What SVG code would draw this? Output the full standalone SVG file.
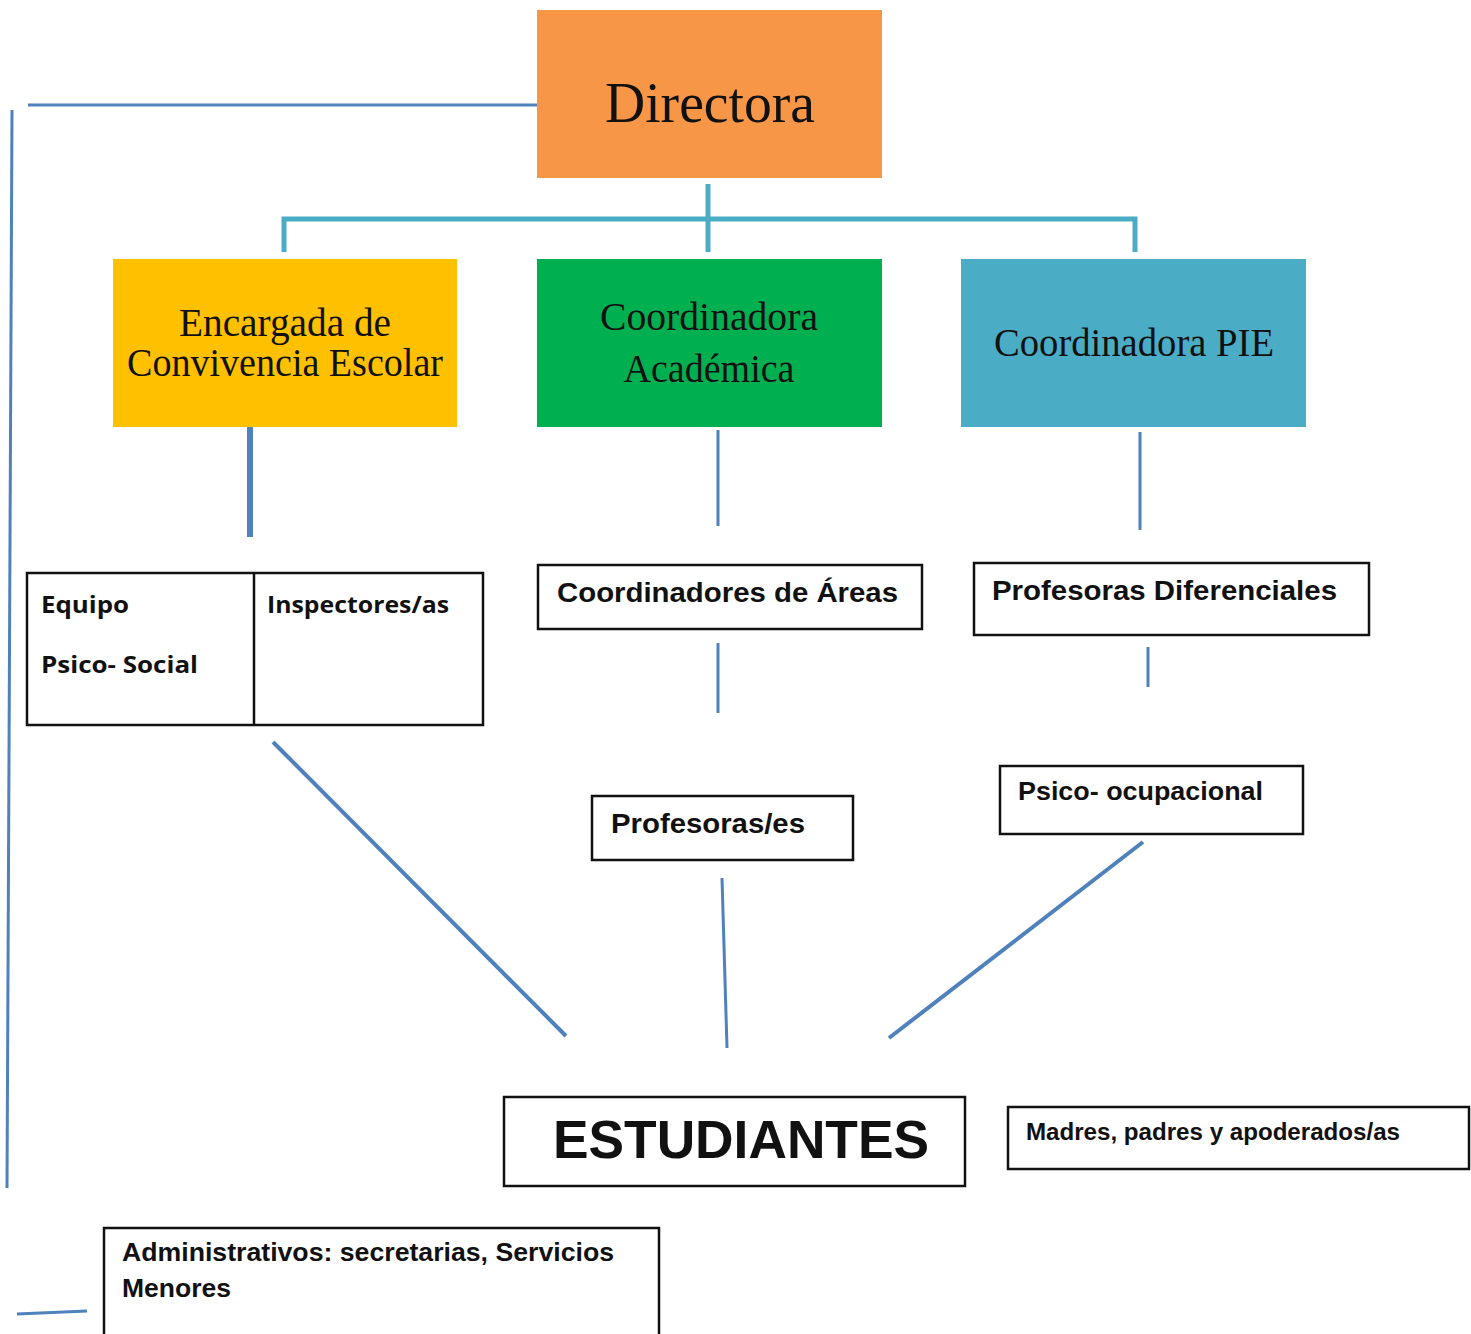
<svg xmlns="http://www.w3.org/2000/svg" width="1471" height="1334" viewBox="0 0 1471 1334">
<style>
.serif{font-family:"Liberation Serif","DejaVu Serif",serif;fill:#111;}
.sans{font-family:"Liberation Sans",Arial,sans-serif;font-weight:bold;fill:#111;}
.mont{font-family:"Open Sans","Liberation Sans",sans-serif;font-weight:bold;fill:#111;}
.box{fill:#fff;stroke:#111;stroke-width:2.5;}
.blue{stroke:#4F81BD;fill:none;stroke-linecap:butt;}
.teal{stroke:#4BACC6;fill:none;stroke-width:5;}
</style>
<rect width="1471" height="1334" fill="#fff"/>
<g id="connectors">
<line class="blue" x1="28" y1="105" x2="537" y2="105" stroke-width="3"/>
<line class="blue" x1="12" y1="110" x2="7" y2="1188" stroke-width="3"/>
<polyline class="teal" points="284,252 284,219 1135,219 1135,252"/>
<line class="teal" x1="708" y1="184" x2="708" y2="252"/>
<line class="blue" x1="250" y1="421" x2="250" y2="537" stroke-width="6"/>
<line class="blue" x1="718" y1="430" x2="718" y2="526" stroke-width="3"/>
<line class="blue" x1="1140" y1="432" x2="1140" y2="530" stroke-width="3"/>
<line class="blue" x1="718" y1="643" x2="718" y2="713" stroke-width="3"/>
<line class="blue" x1="1148" y1="647" x2="1148" y2="687" stroke-width="3"/>
<line class="blue" x1="273" y1="742" x2="566" y2="1036" stroke-width="4"/>
<line class="blue" x1="722" y1="878" x2="727" y2="1048" stroke-width="3"/>
<line class="blue" x1="1143" y1="842" x2="889" y2="1038" stroke-width="4"/>
<line class="blue" x1="17" y1="1314" x2="87" y2="1311" stroke-width="3"/>
</g>
<g id="directora">
<rect x="537" y="10" width="345" height="168" fill="#F79646"/>
<text class="serif" x="710" y="122" font-size="56" text-anchor="middle" textLength="210" lengthAdjust="spacingAndGlyphs">Directora</text>
</g>
<g id="encargada">
<rect x="113" y="259" width="344" height="168" fill="#FFC000"/>
<text class="serif" x="285" y="336" font-size="39" text-anchor="middle" textLength="212" lengthAdjust="spacingAndGlyphs">Encargada de</text>
<text class="serif" x="285" y="376" font-size="39" text-anchor="middle" textLength="316" lengthAdjust="spacingAndGlyphs">Convivencia Escolar</text>
</g>
<g id="academica">
<rect x="537" y="259" width="345" height="168" fill="#00B050"/>
<text class="serif" x="709" y="330" font-size="39" text-anchor="middle" textLength="218" lengthAdjust="spacingAndGlyphs">Coordinadora</text>
<text class="serif" x="709" y="382" font-size="39" text-anchor="middle" textLength="171" lengthAdjust="spacingAndGlyphs">Académica</text>
</g>
<g id="pie">
<rect x="961" y="259" width="345" height="168" fill="#4BACC6"/>
<text class="serif" x="1134" y="356" font-size="39" text-anchor="middle" textLength="280" lengthAdjust="spacingAndGlyphs">Coordinadora PIE</text>
</g>
<g id="equipo-inspectores">
<rect class="box" x="27" y="573" width="456" height="152"/>
<line x1="254" y1="573" x2="254" y2="725" stroke="#111" stroke-width="2.5"/>
<text class="mont" x="41" y="613" font-size="23" textLength="88" lengthAdjust="spacingAndGlyphs">Equipo</text>
<text class="mont" x="41" y="673" font-size="23" textLength="157" lengthAdjust="spacingAndGlyphs">Psico- Social</text>
<text class="mont" x="267" y="613" font-size="23" textLength="182" lengthAdjust="spacingAndGlyphs">Inspectores/as</text>
</g>
<g id="coordinadores-areas">
<rect class="box" x="538" y="565" width="384" height="64"/>
<text class="sans" x="557" y="602" font-size="28" textLength="341" lengthAdjust="spacingAndGlyphs">Coordinadores de Áreas</text>
</g>
<g id="profesoras-diferenciales">
<rect class="box" x="974" y="563" width="395" height="72"/>
<text class="sans" x="992" y="600" font-size="28" textLength="345" lengthAdjust="spacingAndGlyphs">Profesoras Diferenciales</text>
</g>
<g id="profesores">
<rect class="box" x="592" y="796" width="261" height="64"/>
<text class="sans" x="611" y="833" font-size="28" textLength="194" lengthAdjust="spacingAndGlyphs">Profesoras/es</text>
</g>
<g id="psico-ocupacional">
<rect class="box" x="1000" y="766" width="303" height="68"/>
<text class="sans" x="1018" y="800" font-size="26" textLength="245" lengthAdjust="spacingAndGlyphs">Psico- ocupacional</text>
</g>
<g id="estudiantes">
<rect class="box" x="504" y="1097" width="461" height="89"/>
<text class="sans" x="553" y="1158" font-size="53" textLength="376" lengthAdjust="spacingAndGlyphs">ESTUDIANTES</text>
</g>
<g id="apoderados">
<rect class="box" x="1008" y="1107" width="461" height="62"/>
<text class="sans" x="1026" y="1140" font-size="23" textLength="374" lengthAdjust="spacingAndGlyphs">Madres, padres y apoderados/as</text>
</g>
<g id="administrativos">
<path d="M104,1336 V1228 H659 V1336" fill="#fff" stroke="#111" stroke-width="2.5"/>
<text class="sans" x="122" y="1261" font-size="25" textLength="492" lengthAdjust="spacingAndGlyphs">Administrativos: secretarias, Servicios</text>
<text class="sans" x="122" y="1297" font-size="25" textLength="109" lengthAdjust="spacingAndGlyphs">Menores</text>
</g>
</svg>
